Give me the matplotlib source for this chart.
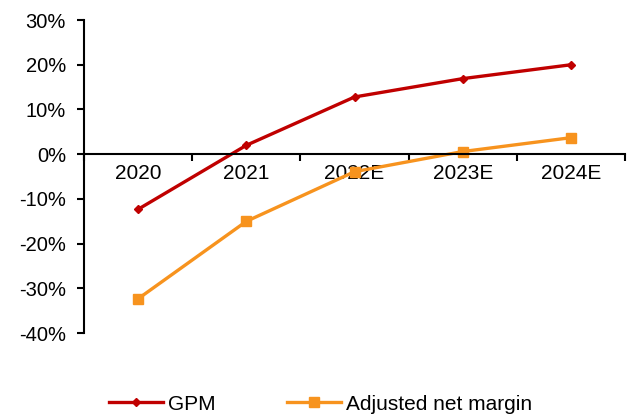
import matplotlib
matplotlib.use("Agg")
import matplotlib.pyplot as plt
from matplotlib.ticker import FuncFormatter

plt.rcParams['font.family'] = ['Liberation Sans', 'DejaVu Sans']

years = ["2020", "2021", "2022E", "2023E", "2024E"]
gpm = [-12.3, 2.0, 12.8, 16.9, 20.0]
net_margin = [-32.3, -15.0, -3.9, 0.6, 3.7]

fig = plt.figure(figsize=(6.32, 4.17), dpi=100)
ax = fig.add_axes([0.133, 0.201, 0.856, 0.751])

x = list(range(len(years)))
ax.plot(x, gpm, color="#C00000", lw=2.4, marker="D", ms=4.5, label="GPM")
ax.plot(x, net_margin, color="#F7931E", lw=2.4, marker="s", ms=6.5, label="Adjusted net margin")

ax.set_ylim(-40, 30)
ax.set_xlim(-0.5, len(years) - 0.5)
ax.set_yticks(range(-40, 31, 10))
ax.yaxis.set_major_formatter(FuncFormatter(lambda v, p: f"{v:.0f}%"))

# x axis sits on zero, category boundaries as ticks
ax.spines['bottom'].set_position(('data', 0))
ax.spines['top'].set_visible(False)
ax.spines['right'].set_visible(False)
for s in ['left', 'bottom']:
    ax.spines[s].set_linewidth(1.5)
ax.set_xticks([i - 0.5 for i in range(len(years) + 1)])
ax.set_xticklabels([])
ax.set_xticks(x, minor=True)
ax.set_xticklabels(years, minor=True)
ax.tick_params(axis='x', which='major', direction='out', length=5, width=1.5)
ax.tick_params(axis='x', which='minor', length=0, pad=7, labelsize=15)
ax.tick_params(axis='y', direction='out', length=5, width=1.5, labelsize=14.5, pad=8)

fig.legend(loc='center', bbox_to_anchor=(0.507, 0.031), ncol=2, frameon=False,
           fontsize=15, handlelength=2.6, columnspacing=3.4, handletextpad=0.25)

fig.savefig("out.png", dpi=100)
